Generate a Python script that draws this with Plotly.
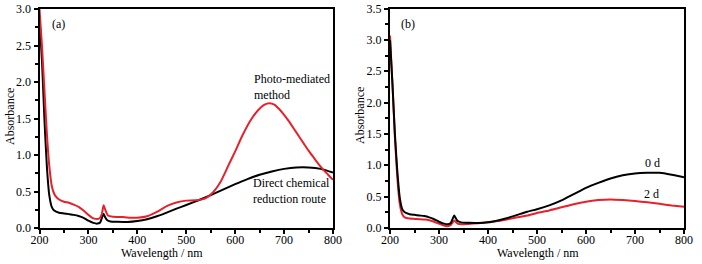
import plotly.graph_objects as go

# ---- Panel (a) data ----
wl_a_direct = [200, 205, 210, 215, 220, 225, 230, 240, 250, 260, 270, 280, 290, 300, 310, 318, 324, 328, 331, 334, 338, 345,
               360, 380, 400, 420, 440, 460, 480, 500, 525, 550, 575, 600, 625, 650, 675, 700, 725, 750, 775, 800]
abs_a_direct = [2.88, 2.3, 1.5, 0.85, 0.45, 0.29, 0.24, 0.21, 0.2, 0.19, 0.18, 0.165, 0.14, 0.1, 0.07, 0.06, 0.075, 0.15, 0.195, 0.15, 0.11, 0.09,
                0.085, 0.082, 0.095, 0.12, 0.16, 0.21, 0.265, 0.315, 0.38, 0.45, 0.525, 0.6, 0.67, 0.73, 0.775, 0.81, 0.83, 0.83, 0.81, 0.76]

wl_a_photo = [200, 205, 210, 215, 220, 225, 230, 235, 240, 250, 260, 270, 280, 290, 300, 308, 315, 322, 327, 331, 335, 340, 350,
              370, 390, 400, 420, 440, 460, 480, 500, 520, 540, 555, 570, 585, 600, 615, 630, 645, 660, 670, 680, 690, 700, 710,
              720, 730, 740, 750, 760, 770, 780, 790, 800]
abs_a_photo = [3.0, 2.5, 1.9, 1.3, 0.85, 0.58, 0.47, 0.42, 0.39, 0.36, 0.345, 0.32, 0.29, 0.24, 0.18, 0.14, 0.125, 0.13, 0.18, 0.31, 0.24, 0.17, 0.155,
               0.15, 0.14, 0.14, 0.16, 0.22, 0.3, 0.35, 0.375, 0.38, 0.41, 0.49, 0.63, 0.84, 1.05, 1.27, 1.46, 1.6, 1.69, 1.71, 1.69, 1.63, 1.55, 1.46,
               1.36, 1.26, 1.16, 1.06, 0.97, 0.88, 0.8, 0.73, 0.66]

# ---- Panel (b) data ----
wl_b = [200, 205, 210, 215, 220, 225, 230, 240, 250, 260, 270, 280, 290, 300, 310, 318, 324, 328, 331, 334, 338, 345,
        360, 380, 400, 420, 440, 460, 480, 500, 525, 550, 575, 600, 625, 650, 675, 700, 725, 750, 775, 800]
abs_b_0d = [3.0, 2.3, 1.5, 0.9, 0.48, 0.3, 0.25, 0.22, 0.21, 0.2, 0.19, 0.17, 0.14, 0.1, 0.07, 0.06, 0.08, 0.15, 0.2, 0.16, 0.11, 0.09,
            0.085, 0.08, 0.09, 0.12, 0.16, 0.21, 0.26, 0.3, 0.36, 0.44, 0.54, 0.64, 0.72, 0.79, 0.84, 0.87, 0.88, 0.88, 0.85, 0.81]
abs_b_2d = [3.07, 2.3, 1.45, 0.8, 0.38, 0.22, 0.17, 0.15, 0.145, 0.14, 0.135, 0.125, 0.1, 0.07, 0.04, 0.03, 0.05, 0.09, 0.12, 0.1, 0.07, 0.06,
            0.065, 0.075, 0.09, 0.11, 0.14, 0.17, 0.2, 0.24, 0.28, 0.33, 0.38, 0.42, 0.445, 0.455, 0.445, 0.43, 0.41, 0.385, 0.36, 0.34]

x_ticks = [200, 300, 400, 500, 600, 700, 800]
y_ticks_a = [0.0, 0.5, 1.0, 1.5, 2.0, 2.5, 3.0]
y_ticks_b = [0.0, 0.5, 1.0, 1.5, 2.0, 2.5, 3.0, 3.5]

RED = "#e8202a"
BLACK = "#000000"
FONT = "Liberation Serif"

fig = go.Figure()
line_kw = dict(shape="spline", smoothing=0.5, width=2)
fig.add_trace(go.Scatter(x=wl_a_direct, y=abs_a_direct, mode="lines", line=dict(color=BLACK, **line_kw),
                         xaxis="x", yaxis="y", showlegend=False, hoverinfo="skip"))
fig.add_trace(go.Scatter(x=wl_a_photo, y=abs_a_photo, mode="lines", line=dict(color=RED, **line_kw),
                         xaxis="x", yaxis="y", showlegend=False, hoverinfo="skip"))
fig.add_trace(go.Scatter(x=wl_b, y=abs_b_2d, mode="lines", line=dict(color=RED, **line_kw),
                         xaxis="x2", yaxis="y2", showlegend=False, hoverinfo="skip"))
fig.add_trace(go.Scatter(x=wl_b, y=abs_b_0d, mode="lines", line=dict(color=BLACK, **line_kw),
                         xaxis="x2", yaxis="y2", showlegend=False, hoverinfo="skip"))

W, H = 702, 264
def px_x(p):
    return p / W
def px_y(p):
    return 1 - p / H

ax_common = dict(showline=True, linecolor="black", linewidth=2, mirror=True, showgrid=False, zeroline=False,
                 ticks="outside", ticklen=4, tickwidth=1.5, tickcolor="black", automargin=False,
                 ticklabeloverflow="allow", tickfont=dict(family=FONT, size=12, color="black"))
xminor = dict(ticks="outside", ticklen=3, dtick=50, tick0=200, tickcolor="black", tickwidth=1.5)
yminor = dict(ticks="outside", ticklen=3, dtick=0.25, tick0=0, tickcolor="black", tickwidth=1.5)

fig.update_layout(
    width=W, height=H, margin=dict(l=0, r=0, t=0, b=0, pad=0, autoexpand=False),
    plot_bgcolor="white", paper_bgcolor="white",
    xaxis=dict(domain=[px_x(39.5), px_x(333)], range=[200, 800], tickvals=x_ticks, minor=xminor,
               ticklabelstandoff=-4, anchor="y", **ax_common),
    yaxis=dict(domain=[px_y(228), px_y(9)], range=[0, 3.0005], tickvals=y_ticks_a, tickformat=".1f", minor=yminor,
               anchor="x", **ax_common),
    xaxis2=dict(domain=[px_x(390), px_x(684)], range=[200, 800], tickvals=x_ticks, minor=xminor,
                ticklabelstandoff=-4, anchor="y2", **ax_common),
    yaxis2=dict(domain=[px_y(228), px_y(8.5)], range=[0, 3.5005], tickvals=y_ticks_b, tickformat=".1f", minor=yminor,
                anchor="x2", **ax_common),
)

tf = dict(family=FONT, size=12, color="black")
ann = []
def add(**kw):
    base = dict(showarrow=False, font=tf, xanchor="center", yanchor="middle")
    base.update(kw)
    ann.append(base)

# panel labels and curve labels
add(x=239, y=2.79, xref="x", yref="y", text="(a)")
add(x=236, y=3.25, xref="x2", yref="y2", text="(b)")
add(x=634, y=(228 - 87) / 73, xref="x", yref="y", text="Photo-mediated<br>method", xanchor="left", align="left")
add(x=632, y=(228 - 191) / 73, xref="x", yref="y", text="Direct chemical<br>reduction route", xanchor="left", align="left")
add(x=735, y=1.03, xref="x2", yref="y2", text="0 d")
add(x=733, y=0.54, xref="x2", yref="y2", text="2 d")
# axis titles
add(x=px_x(162), y=px_y(252.5), xref="paper", yref="paper", text="Wavelength / nm")
add(x=px_x(537.5), y=px_y(252.5), xref="paper", yref="paper", text="Wavelength / nm")
add(x=px_x(10), y=px_y(117), xref="paper", yref="paper", text="Absorbance", textangle=-90)
add(x=px_x(360), y=px_y(115), xref="paper", yref="paper", text="Absorbance", textangle=-90)
fig.update_layout(annotations=ann)

# remove the default 8px page margin so the 702x264 figure fills the window
fig.write_html("out.html", config={"displayModeBar": False},
               post_script="document.body.style.margin='0';document.body.style.overflow='hidden';")
